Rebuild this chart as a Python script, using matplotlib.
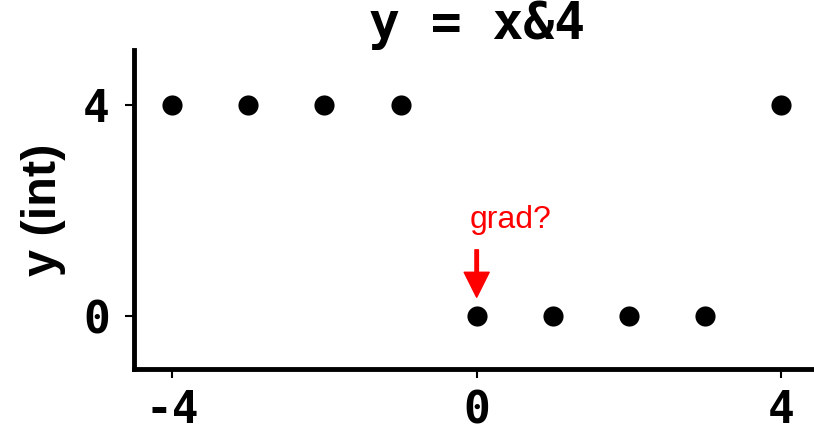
import matplotlib
matplotlib.use('Agg')
import matplotlib.pyplot as plt

# x 와 y = x & 4 값
x_vals = [-4, -3, -2, -1, 0, 1, 2, 3, 4]
y_vals = [4, 4, 4, 4, 0, 0, 0, 0, 4]

x_ticks = [-4, 0, 4]
y_ticks = [0, 4]

mono = 'DejaVu Sans Mono'

fig = plt.figure( figsize=( 8.14, 4.34 ), dpi=100 )
ax = fig.add_axes( [ 0.1646, 0.1498, 0.842, 0.735 ] )

ax.plot( x_vals, y_vals, 'o', color='black', markersize=14.5, markeredgewidth=0 )

ax.set_xlim( -4.5, 4.5 )
ax.set_ylim( -1, 5.05 )
ax.set_xticks( x_ticks )
ax.set_yticks( y_ticks )
ax.set_xticklabels( [ str( v ) for v in x_ticks ], family=mono, weight='bold', fontsize=32 )
ax.set_yticklabels( [ str( v ) for v in y_ticks ], family=mono, weight='bold', fontsize=32 )
ax.tick_params( axis='x', length=6.5, width=1.5, pad=8 )
ax.tick_params( axis='y', length=6.5, width=1.5, pad=11 )

# 테두리: 왼쪽, 아래만
for side in [ 'top', 'right' ]:
    ax.spines[ side ].set_visible( False )
for side in [ 'left', 'bottom' ]:
    ax.spines[ side ].set_linewidth( 3.5 )

ax.set_title( 'y = x&4', family=mono, weight='bold', fontsize=37, pad=2 )
ax.set_ylabel( 'y (int)', family='Liberation Sans', weight='bold', fontsize=35, labelpad=12 )

# 0 지점 기울기 표시
ax.annotate( '', xy=( 0, 0.36 ), xytext=( 0, 1.26 ),
             arrowprops=dict( color='red', width=2.5, headwidth=18, headlength=18, shrink=0 ) )
ax.text( -0.09, 1.67, 'grad?', color='red', family='Liberation Sans', fontsize=23,
         ha='left', va='baseline' )

fig.savefig( 'out.png', dpi=100 )
